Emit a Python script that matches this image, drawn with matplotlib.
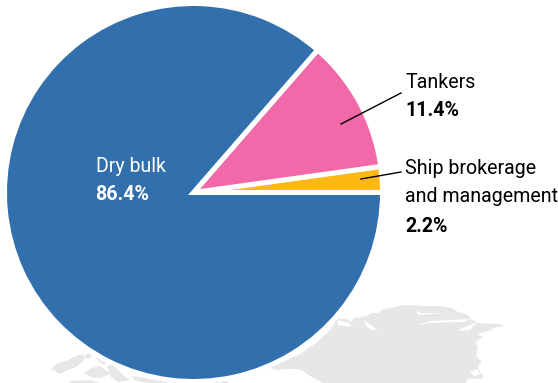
import matplotlib
matplotlib.use("Agg")
import matplotlib.pyplot as plt
from matplotlib.patches import Polygon

shares = [2.2, 11.4, 86.4]
wedge_colors = ["#fdb913", "#f169a8", "#3270ad"]

W, H = 558, 383
LAND = "#e6e7e8"


def flip(points):
    # outline points are easier to think about with y running downwards
    return [(x, H - y) for x, y in points]


# grey land shapes behind the pie
land_east = [(270, 368), (276, 370), (288, 369), (297, 369), (303, 371), (310, 376), (323, 383), (466, 383),
             (468, 378), (480, 379), (484, 377), (480, 372), (478, 366), (482, 362), (476, 356), (478, 348),
             (476, 342), (483, 337), (477, 334), (490, 331), (494, 328), (504, 326), (500, 324), (478, 323),
             (471, 319), (468, 315), (458, 312), (452, 308), (440, 306), (425, 306), (403, 305), (390, 308),
             (382, 310), (378, 313), (372, 313), (364, 317), (354, 318), (352, 322), (346, 319), (337, 319),
             (330, 330), (316, 343), (300, 354), (285, 361), (272, 366)]
land_west = [
    [(51, 369), (58, 363), (66, 361), (76, 356), (83, 354), (85, 358), (82, 362), (76, 367), (68, 370), (60, 374)],
    [(84, 357), (88, 353), (92, 356), (89, 359)],
    [(95, 358), (102, 358), (108, 362), (104, 365)],
    [(84, 373), (92, 368), (100, 366), (106, 370), (110, 374), (100, 378), (92, 378)],
    [(107, 366), (114, 363), (118, 370), (124, 376), (130, 380), (118, 382), (110, 376)],
    [(132, 376), (140, 377), (170, 381), (228, 380), (228, 383), (146, 383), (134, 380)],
    [(72, 381), (90, 380), (100, 383), (68, 383)],
]
# inlets cut into the land, painted in the background colour
inlets = [
    [(338, 320), (349, 323), (351, 327), (338, 325)],
    [(364, 320), (372, 326), (378, 330), (372, 330), (366, 326)],
    [(417, 325), (430, 321), (470, 319), (464, 322), (430, 323)],
    [(417, 314), (418, 310), (420, 313), (445, 313), (420, 315)],
    [(462, 328), (478, 322), (470, 330), (458, 331)],
    [(484, 332), (500, 329), (495, 332), (486, 335)],
    [(476, 344), (486, 340), (484, 343), (478, 346)],
    [(470, 372), (478, 369), (480, 374), (474, 376)],
]

fig = plt.figure(figsize=(W / 100, H / 100), dpi=100)
ax = fig.add_axes([0, 0, 1, 1])
ax.add_patch(Polygon(flip(land_east), closed=True, fc=LAND, ec="none", zorder=0))
for shape in land_west:
    ax.add_patch(Polygon(flip(shape), closed=True, fc=LAND, ec="none", zorder=0))
for shape in inlets:
    ax.add_patch(Polygon(flip(shape), closed=True, fc="white", ec="none", zorder=1))

ax.pie(shares, colors=wedge_colors, startangle=0, counterclock=True, center=(193.5, H - 192.5), radius=189,
       wedgeprops={"edgecolor": "white", "linewidth": 3.6, "zorder": 2}, frame=True)

ax.set_xlim(0, W)
ax.set_ylim(0, H)
ax.set_aspect("equal")
ax.axis("off")

plt.rcParams["font.family"] = ["Roboto", "Liberation Sans"]
SIZE = 14.1

ax.text(96, H - 166, "Dry bulk", color="white", fontsize=SIZE, va="center", zorder=3)
ax.text(95, H - 194, "86.4%", color="white", fontsize=SIZE, fontweight="bold", va="center", zorder=3)
ax.text(405, H - 82, "Tankers", color="black", fontsize=SIZE, va="center", zorder=3)
ax.text(405, H - 111, "11.4%", color="black", fontsize=SIZE, fontweight="bold", va="center", zorder=3)
ax.text(405, H - 168, "Ship brokerage", color="black", fontsize=SIZE, va="center", zorder=3)
ax.text(405, H - 197, "and management", color="black", fontsize=SIZE, va="center", zorder=3)
ax.text(405, H - 226, "2.2%", color="black", fontsize=SIZE, fontweight="bold", va="center", zorder=3)

# leader lines
ax.plot([341, 401], [H - 124, H - 93], color="black", lw=1, zorder=3)
ax.plot([361, 401], [H - 179, H - 172], color="black", lw=1, zorder=3)

fig.savefig("out.png", dpi=100)
